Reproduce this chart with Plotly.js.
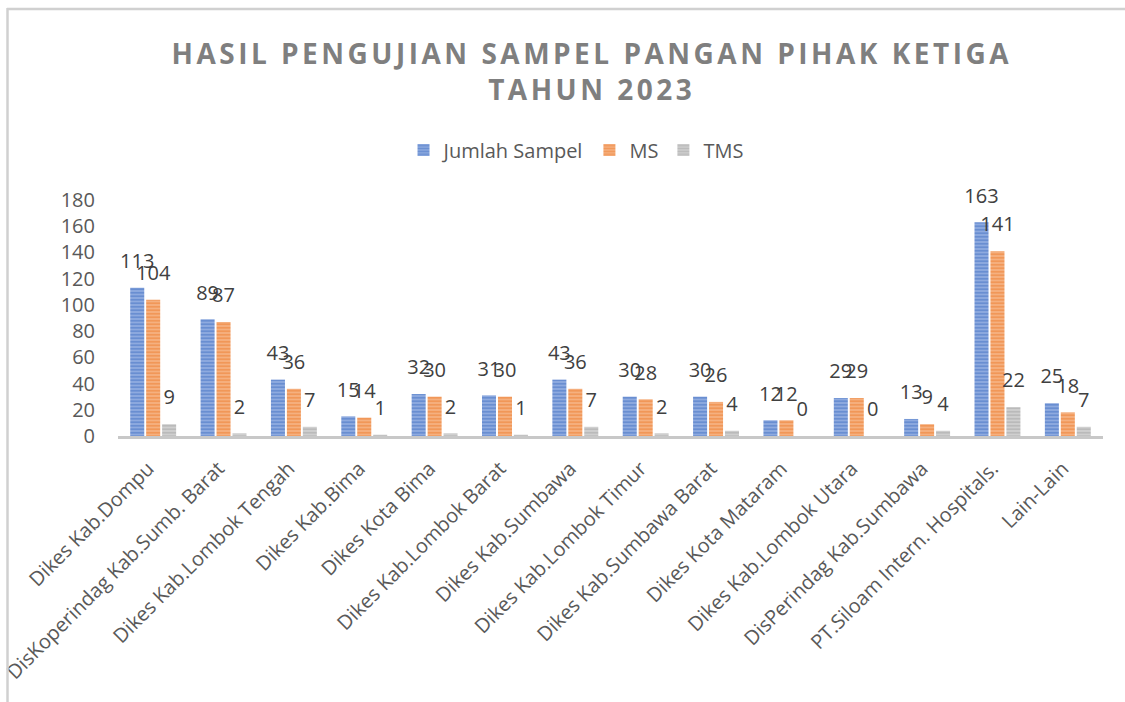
<!DOCTYPE html>
<html>
<head>
<meta charset="utf-8">
<script src="https://cdn.plot.ly/plotly-3.0.1.min.js"></script>
<style>
html,body{margin:0;padding:0;background:#fff;}
#chart{width:1125px;height:702px;}
.gtitle{letter-spacing:3.5px;}
</style>
</head>
<body>
<div id="chart"></div>
<script>
const categories = [
  "Dikes Kab.Dompu",
  "DisKoperindag Kab.Sumb. Barat",
  "Dikes Kab.Lombok Tengah",
  "Dikes Kab.Bima",
  "Dikes Kota Bima",
  "Dikes Kab.Lombok Barat",
  "Dikes Kab.Sumbawa",
  "Dikes Kab.Lombok Timur",
  "Dikes Kab.Sumbawa Barat",
  "Dikes Kota Mataram",
  "Dikes Kab.Lombok Utara",
  "DisPerindag Kab.Sumbawa",
  "PT.Siloam Intern. Hospitals.",
  "Lain-Lain"
];
const jumlahSampel = [113, 89, 43, 15, 32, 31, 43, 30, 30, 12, 29, 13, 163, 25];
const ms = [104, 87, 36, 14, 30, 30, 36, 28, 26, 12, 29, 9, 141, 18];
const tms = [9, 2, 7, 1, 2, 1, 7, 2, 4, 0, 0, 4, 22, 7];
const seriesNames = ["Jumlah Sampel", "MS", "TMS"];
const yTicks = [0, 20, 40, 60, 80, 100, 120, 140, 160, 180];

const FONT = "'Open Sans', 'Noto Sans', sans-serif";
const styles = [
  {bg: "#8eaadf", fg: "#4472C4"},
  {bg: "#f5b07f", fg: "#ED7D31"},
  {bg: "#cfcfcf", fg: "#A5A5A5"}
];
const seriesData = [jumlahSampel, ms, tms];

const barTraces = seriesData.map((vals, i) => ({
  type: "bar",
  name: seriesNames[i],
  x: categories,
  y: vals,
  marker: {
    color: styles[i].bg,
    line: {width: 0},
    pattern: {shape: "-", fgcolor: styles[i].fg, bgcolor: styles[i].bg, size: 3.5, solidity: 0.5, fillmode: "overlay"}
  },
  hoverinfo: "x+y+name"
}));

const labelTraces = seriesData.map((vals, i) => ({
  type: "scatter",
  mode: "markers+text",
  name: seriesNames[i] + " label",
  showlegend: false,
  x: categories,
  y: vals,
  text: vals.map(String),
  textposition: "top center",
  cliponaxis: false,
  textfont: {family: FONT, size: 20, color: "#404040"},
  marker: {size: 22, opacity: 0},
  hoverinfo: "skip"
}));

const L = 118, R = 22, T = 200, B = 266, W = 1125, H = 702;
const pw = W - L - R, ph = H - T - B;

const layout = {
  width: W, height: H,
  paper_bgcolor: "#ffffff",
  plot_bgcolor: "#ffffff",
  margin: {l: L, r: R, t: T, b: B, pad: 0},
  font: {family: FONT, color: "#595959"},
  title: {
    text: "<b>HASIL PENGUJIAN SAMPEL PANGAN PIHAK KETIGA</b><br><b>TAHUN 2023</b>",
    font: {family: FONT, size: 28, color: "#7f7f7f"},
    x: 0.526, xanchor: "center",
    y: 0.909, yanchor: "middle"
  },
  barmode: "group",
  bargap: 0.32,
  bargroupgap: 0.12,
  scattermode: "group",
  scattergap: 0.32,
  showlegend: true,
  legend: {
    orientation: "h",
    x: 0.465, xanchor: "center",
    y: 1.212, yanchor: "middle",
    font: {family: FONT, size: 20, color: "#595959"},
    itemwidth: 30,
    traceorder: "normal"
  },
  xaxis: {
    type: "category",
    range: [-0.5, 13.5],
    tickangle: -45,
    tickfont: {family: FONT, size: 20, color: "#595959"},
    showline: true,
    linecolor: "#c8c8c8",
    linewidth: 3,
    ticks: "",
    ticklabelstandoff: 10,
    ticklabelshift: -5,
    showgrid: false,
    zeroline: false,
    fixedrange: true
  },
  yaxis: {
    range: [0, 180],
    tickvals: yTicks,
    ticktext: yTicks.map(String),
    tickfont: {family: FONT, size: 20, color: "#595959"},
    showgrid: false,
    zeroline: false,
    showline: false,
    ticks: "",
    ticklabelstandoff: 22,
    fixedrange: true
  },
  shapes: [
    {type: "line", xref: "paper", yref: "paper",
     x0: (7 - L) / pw, x1: (1200 - L) / pw,
     y0: (H - B - 9) / ph, y1: (H - B - 9) / ph,
     line: {color: "#d0d0d0", width: 2.5}},
    {type: "line", xref: "paper", yref: "paper",
     x0: (7.5 - L) / pw, x1: (7.5 - L) / pw,
     y0: (H - B - 8) / ph, y1: (H - B - 800) / ph,
     line: {color: "#d0d0d0", width: 2.5}}
  ]
};

Plotly.newPlot("chart", barTraces.concat(labelTraces), layout, {displayModeBar: false, staticPlot: true});
</script>
</body>
</html>
